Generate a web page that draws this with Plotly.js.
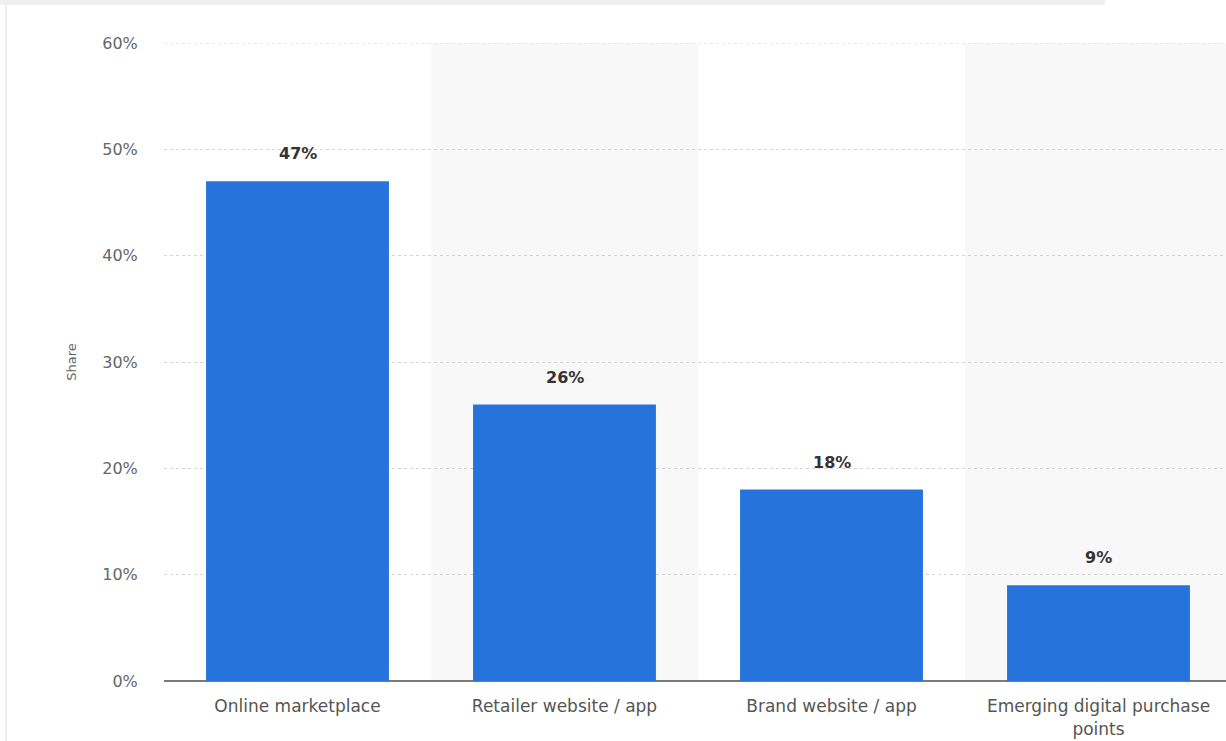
<!DOCTYPE html>
<html>
<head>
<meta charset="utf-8">
<script src="https://cdn.plot.ly/plotly-3.0.1.min.js"></script>
<style>
html,body{margin:0;padding:0;background:#fff;overflow:hidden;width:1226px;height:741px;}
#topstrip{position:absolute;left:0;top:0;width:1105px;height:5px;background:#efefef;}
#leftline{position:absolute;left:5px;top:5px;width:2px;height:736px;background:#ececec;}
#chart{position:absolute;left:0;top:0;width:1240px;height:741px;}
</style>
</head>
<body>
<div id="chart"></div>
<div id="topstrip"></div>
<div id="leftline"></div>
<script>
const categories = ["Online marketplace", "Retailer website / app", "Brand website / app", "Emerging digital purchase<br>points"];
const shares = [47, 26, 18, 9];
const yTicks = [0, 10, 20, 30, 40, 50, 60];

const FONT = "DejaVu Sans, Verdana, sans-serif";

const trace = {
  type: "bar",
  x: categories,
  y: shares,
  marker: {color: "#2674db"},
  width: 0.685,
  hoverinfo: "none"
};

const shapes = [1, 3].map(i => ({
  type: "rect", xref: "x", yref: "paper",
  x0: i - 0.5, x1: i + 0.5, y0: 0, y1: 1,
  fillcolor: "#f8f8f8", line: {width: 0}, layer: "below"
}));
shapes.push({
  type: "line", xref: "paper", yref: "y",
  x0: 0, x1: 1, y0: yTicks[yTicks.length - 1], y1: yTicks[yTicks.length - 1],
  line: {color: "#d4d4d4", width: 1, dash: "dot"}, layer: "below"
});

const annotations = categories.map((c, i) => ({
  x: c, y: shares[i], xref: "x", yref: "y",
  text: "<b>" + shares[i] + "%</b>",
  showarrow: false, yanchor: "bottom", yshift: 16,
  font: {family: FONT, size: 16, color: "#333"}
}));

const layout = {
  width: 1240, height: 741,
  margin: {l: 164, r: 8, t: 43, b: 60},
  paper_bgcolor: "rgba(0,0,0,0)",
  plot_bgcolor: "#fff",
  showlegend: false,
  bargap: 0.315,
  xaxis: {
    type: "category",
    tickfont: {family: FONT, size: 17, color: "#555"},
    ticks: "outside", ticklen: 10, tickcolor: "rgba(0,0,0,0)",
    showgrid: false, showline: false, zeroline: false,
    fixedrange: true
  },
  yaxis: {
    range: [0, 60],
    tickvals: yTicks,
    ticktext: yTicks.map(v => v + "%"),
    tickfont: {family: FONT, size: 16, color: "#666"},
    ticks: "outside", ticklen: 22, tickcolor: "rgba(0,0,0,0)",
    showgrid: true, gridcolor: "#d4d4d4", griddash: "dot", gridwidth: 1,
    zeroline: true, zerolinecolor: "#7a7a7a", zerolinewidth: 2,
    showline: false,
    title: {text: "Share", font: {family: FONT, size: 13, color: "#666"}, standoff: 22},
    fixedrange: true
  },
  shapes: shapes,
  annotations: annotations
};

Plotly.newPlot("chart", [trace], layout, {displayModeBar: false, staticPlot: true});
</script>
</body>
</html>
